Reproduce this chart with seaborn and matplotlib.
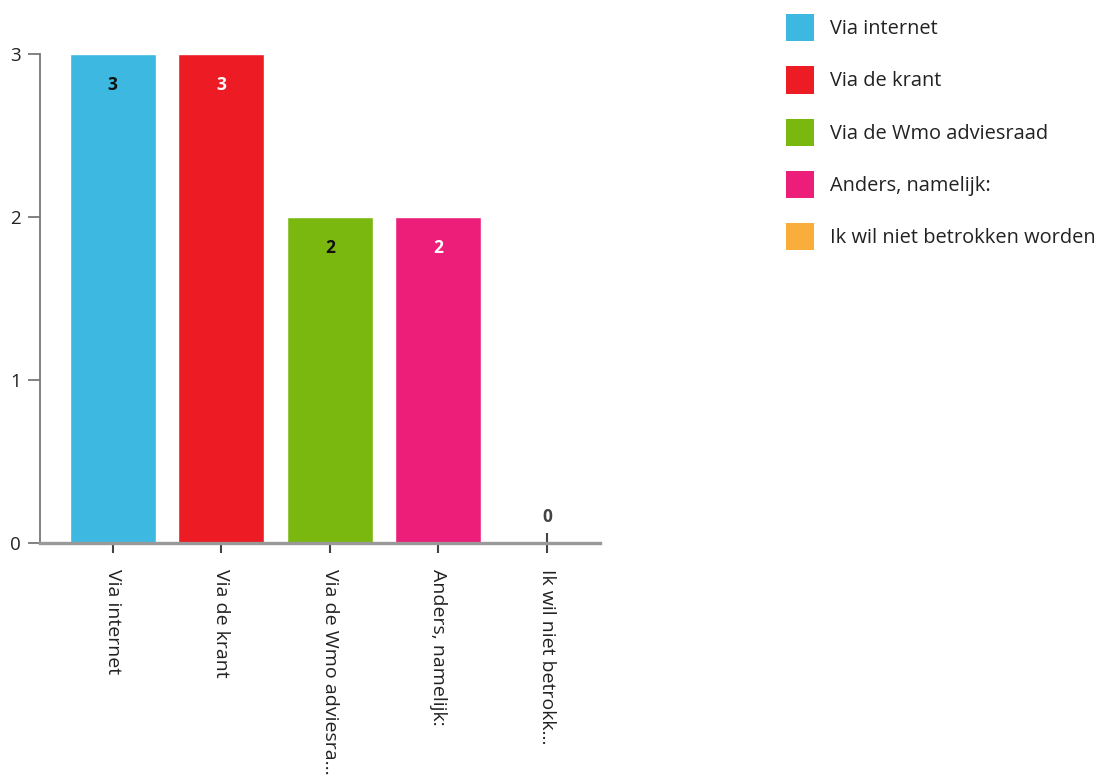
import matplotlib
matplotlib.use("Agg")
import matplotlib.pyplot as plt
from matplotlib.patches import Patch
import seaborn as sns
import pandas as pd

categories = ["Via internet", "Via de krant", "Via de Wmo adviesraad",
              "Anders, namelijk:", "Ik wil niet betrokken worden"]
values = [3, 3, 2, 2, 0]
tick_labels = ["Via internet", "Via de krant", "Via de Wmo adviesra...",
               "Anders, namelijk:", "Ik wil niet betrokk..."]
colors = ["#3DB8E0", "#ED1C24", "#7AB80F", "#EC1E7A", "#F9AE3C"]
label_colors = ["#111111", "#ffffff", "#111111", "#ffffff", "#444444"]

sns.set_theme(style="white")
plt.rcParams["font.family"] = ["Open Sans", "DejaVu Sans"]

df = pd.DataFrame({"cat": categories, "val": values})

fig = plt.figure(figsize=(11.01, 7.76), dpi=100)
ax = fig.add_axes([40 / 1101, 1 - 543 / 776, 560 / 1101, (543 - 54) / 776])

sns.barplot(data=df, x="cat", y="val", hue="cat", palette=colors,
            order=categories, hue_order=categories, dodge=False,
            legend=False, width=0.79, saturation=1, ax=ax)

ax.set_xlim(-0.67, 4.49)
ax.set_ylim(0, 3)
ax.set_yticks([0, 1, 2, 3])
ax.set_yticklabels(["0", "1", "2", "3"], fontsize=13.5, color="#222222")
ax.set_xticks(range(len(categories)))
ax.set_xticklabels(tick_labels, rotation=-90, fontsize=14, color="#222222",
                   va="top", ha="center")
ax.set_xlabel("")
ax.set_ylabel("")

for s in ["top", "right"]:
    ax.spines[s].set_visible(False)
ax.spines["left"].set_color("#777777")
ax.spines["left"].set_linewidth(1.3)
ax.spines["bottom"].set_color("#999999")
ax.spines["bottom"].set_linewidth(2.4)

ax.tick_params(axis="y", left=True, length=9, width=1.3, color="#777777", pad=5)
ax.tick_params(axis="x", bottom=True, direction="inout", length=14, width=1.5,
               color="#444444", pad=12)

for i, (v, c) in enumerate(zip(values, label_colors)):
    if v > 0:
        ax.annotate(str(v), (i, v), xytext=(0, -22), textcoords="offset points",
                    ha="center", va="center", fontsize=12.5, fontweight="bold",
                    color=c)
    else:
        ax.annotate(str(v), (i, v), xytext=(0, 19), textcoords="offset points",
                    ha="center", va="center", fontsize=12.5, fontweight="bold",
                    color=c)

handles = [Patch(facecolor=col, edgecolor="none", label=cat)
           for cat, col in zip(categories, colors)]
fs = 14.4
leg = fig.legend(handles=handles, loc="upper left",
                 bbox_to_anchor=(786 / 1101, 1 - 14 / 776),
                 frameon=False, fontsize=fs, handlelength=1.38,
                 handleheight=1.72, labelspacing=1.25, handletextpad=0.82,
                 borderaxespad=0, borderpad=0)
for t in leg.get_texts():
    t.set_color("#222222")

fig.savefig("out.png", dpi=100)
